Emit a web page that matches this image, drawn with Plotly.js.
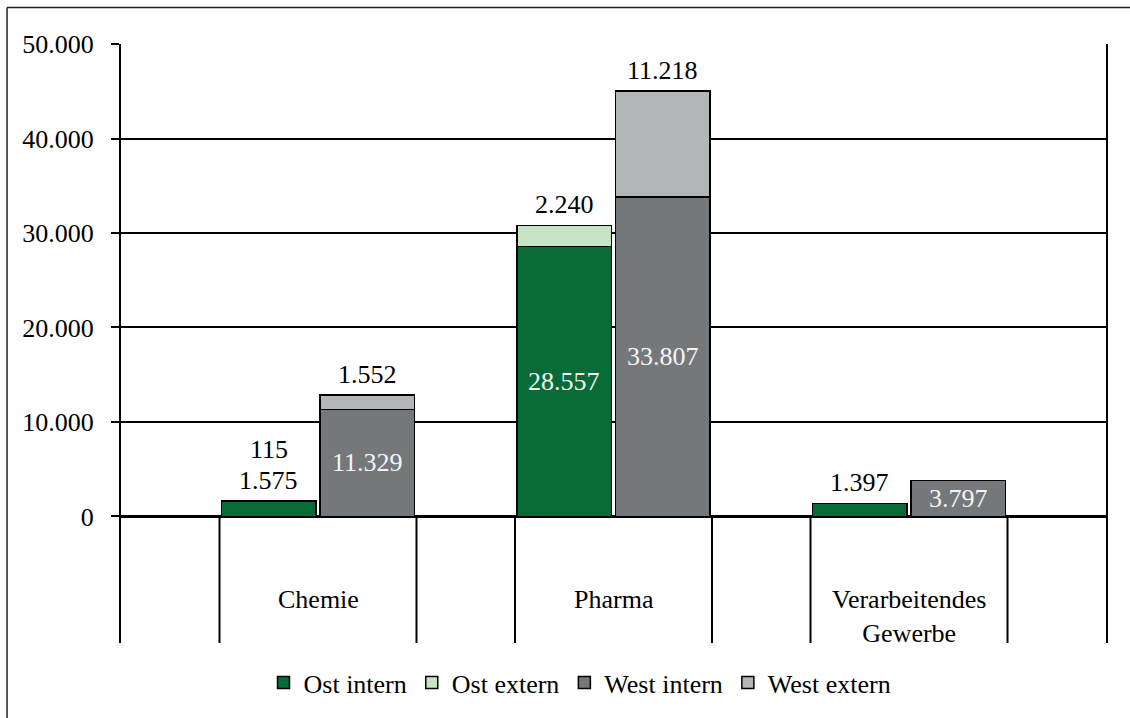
<!DOCTYPE html>
<html><head><meta charset="utf-8">
<script src="https://cdn.plot.ly/plotly-3.0.1.min.js"></script>
<style>html,body{margin:0;padding:0;background:#fff}</style>
</head><body><div id="chart" style="width:1130px;height:718px"></div>
<script>
// ---- data ----
const categories = ["Chemie", "Pharma", "Verarbeitendes<br>Gewerbe"];
const seriesNames = ["Ost intern", "Ost extern", "West intern", "West extern"];
const ostIntern  = [1575, 28557, 1397];
const ostExtern  = [115, 2240, null];
const westIntern = [11329, 33807, 3797];
const westExtern = [1552, 11218, null];
const yTicks = [0, 10000, 20000, 30000, 40000, 50000];

// ---- styling ----
const colors = ["#066B36", "#C6E4C4", "#75787B", "#B3B6B6"];
const FONT = "Liberation Serif";
const FS = 26;

// slots: gap, Ost, West, gap, Ost, West, ..., gap
const slots = [], ostSlot = [], westSlot = [], ostIdx = [];
categories.forEach((c, i) => {
  slots.push("gap" + i);
  const base = c.replace("<br>", " ");
  ostIdx.push(slots.length);
  slots.push(base + " Ost"); ostSlot.push(base + " Ost");
  slots.push(base + " West"); westSlot.push(base + " West");
});
slots.push("gap" + categories.length);

function fmt(v) { return String(v).replace(/\B(?=(\d{3})+(?!\d))/g, "."); }

const mk = (name, x, y, color) => ({
  type: "bar", name: name, x: x, y: y,
  marker: {color: color, line: {color: "#000", width: 1.5}},
  hoverinfo: "skip"
});
const traces = [
  mk(seriesNames[0], ostSlot, ostIntern, colors[0]),
  mk(seriesNames[1], ostSlot, ostExtern, colors[1]),
  mk(seriesNames[2], westSlot, westIntern, colors[2]),
  mk(seriesNames[3], westSlot, westExtern, colors[3])
];

const annotations = [];
const THRESH = 3000;
function labelStack(xs, intern, extern) {
  xs.forEach((x, i) => {
    const vi = intern[i], ve = extern[i];
    const total = vi + (ve || 0);
    const outside = [];
    if (vi > THRESH) {
      annotations.push({x: x, y: vi / 2, xref: "x", yref: "y", text: fmt(vi), showarrow: false,
        yanchor: "middle", font: {family: FONT, size: FS, color: "#f4f4f4"}});
    } else outside.push(vi);
    if (ve != null) outside.push(ve);
    outside.forEach((v, k) => {
      annotations.push({x: x, y: total, xref: "x", yref: "y", text: fmt(v), showarrow: false,
        yanchor: "bottom", yshift: 4 + k * 31, font: {family: FONT, size: FS, color: "#000"}});
    });
  });
}
labelStack(ostSlot, ostIntern, ostExtern);
labelStack(westSlot, westIntern, westExtern);

const yMin = -13388, yMax = 50000;
const shapes = [];
categories.forEach((c, i) => {
  const s = ostIdx[i];
  [s - 0.5, s + 1.5].forEach(xv => shapes.push({type: "line", xref: "x", yref: "y",
    x0: xv, x1: xv, y0: yMin, y1: 0, line: {color: "#000", width: 2}, layer: "above"}));
  annotations.push({x: s + 0.5, xref: "x", y: 0.101, yref: "paper", yanchor: "top",
    text: c, showarrow: false, font: {family: FONT, size: FS, color: "#000"}});
});
// outer chart border (left & top visible)
shapes.push({type: "line", xref: "paper", yref: "paper", x0: -0.1157, x1: -0.1157, y0: -0.2, y1: 1.0611,
  line: {color: "#222", width: 1.5}});
shapes.push({type: "line", xref: "paper", yref: "paper", x0: -0.1157, x1: 1.1, y0: 1.0611, y1: 1.0611,
  line: {color: "#222", width: 1.5}});

const layout = {
  margin: {l: 121, r: 24, t: 44, b: 68},
  paper_bgcolor: "#fff", plot_bgcolor: "#fff",
  font: {family: FONT, size: FS, color: "#000"},
  separators: ",.",
  barmode: "stack", bargap: 0.045,
  showlegend: true,
  legend: {orientation: "h", x: 0.466, xanchor: "center", y: -0.066, yanchor: "middle",
    font: {family: FONT, size: FS, color: "#000"}, itemwidth: 30, traceorder: "normal",
    bgcolor: "rgba(0,0,0,0)"},
  xaxis: {type: "category", categoryorder: "array", categoryarray: slots,
    range: [-0.5, slots.length - 0.5], showticklabels: false, showgrid: false,
    zeroline: false, showline: false, ticks: ""},
  yaxis: {range: [yMin, yMax], tickvals: yTicks, tickformat: ",d", ticks: "outside",
    ticklen: 8, tickwidth: 2, tickcolor: "#000", showgrid: true, gridcolor: "#000",
    gridwidth: 2, zeroline: true, zerolinecolor: "#000", zerolinewidth: 2.5,
    showline: true, mirror: true, linecolor: "#000", linewidth: 2,
    ticklabelstandoff: 12, tickfont: {family: FONT, size: FS, color: "#000"}},
  shapes: shapes,
  annotations: annotations
};

Plotly.newPlot("chart", traces, layout, {displayModeBar: false});
</script></body></html>
